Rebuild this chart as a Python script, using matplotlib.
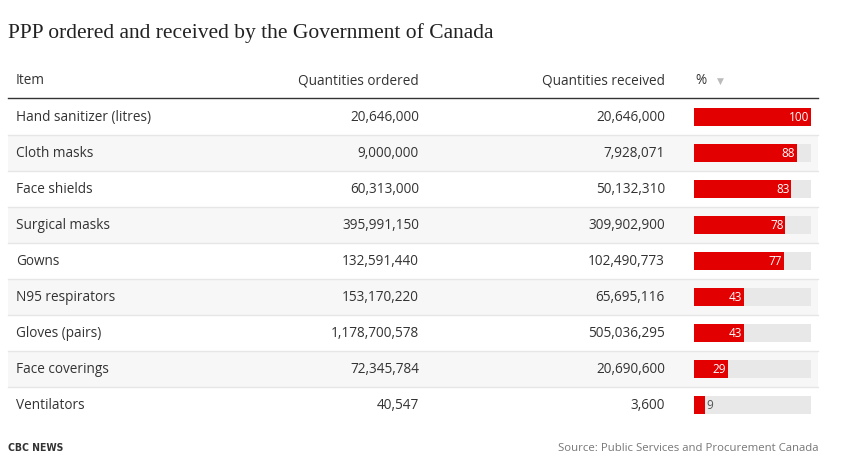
import matplotlib.pyplot as plt
from matplotlib.patches import Rectangle

# table data
items = ["Hand sanitizer (litres)", "Cloth masks", "Face shields", "Surgical masks",
         "Gowns", "N95 respirators", "Gloves (pairs)", "Face coverings", "Ventilators"]
ordered = [20646000, 9000000, 60313000, 395991150, 132591440,
           153170220, 1178700578, 72345784, 40547]
received = [20646000, 7928071, 50132310, 309902900, 102490773,
            65695116, 505036295, 20690600, 3600]
pct = [100, 88, 83, 78, 77, 43, 43, 29, 9]

W, H = 859, 461
body = ["Open Sans", "DejaVu Sans"]
txt = "#333333"

fig = plt.figure(figsize=(W / 100, H / 100), dpi=100)
ax = fig.add_axes([0, 0, 1, 1])
ax.set_xlim(0, W)
ax.set_ylim(H, 0)
ax.axis("off")

ax.text(8, 33, "PPP ordered and received by the Government of Canada",
        fontsize=15.5, family=["Liberation Serif", "DejaVu Serif"], color="#222222", va="center")

# header
hy = 81
ax.text(16, hy, "Item", fontsize=9.8, family=body, color=txt, va="center")
ax.text(419, hy, "Quantities ordered", fontsize=9.8, family=body, color=txt, va="center", ha="right")
ax.text(665, hy, "Quantities received", fontsize=9.8, family=body, color=txt, va="center", ha="right")
ax.text(695, hy, "%", fontsize=9.8, family=body, color=txt, va="center")
ax.text(717, hy, "▼", fontsize=6.5, family=["DejaVu Sans"], color="#bbbbbb", va="center")
ax.plot([8, 818], [98.5, 98.5], color="#333333", lw=1)

top = 99
rh = 36
for i, name in enumerate(items):
    y0 = top + i * rh
    if i % 2 == 1:
        ax.add_patch(Rectangle((8, y0), 810, rh, color="#f7f7f7", lw=0, zorder=0))
    if i < len(items) - 1:
        ax.plot([8, 818], [y0 + rh, y0 + rh], color="#e6e6e6", lw=1, zorder=1)
    yc = y0 + rh / 2
    ax.text(16, yc, name, fontsize=9.8, family=body, color=txt, va="center")
    ax.text(419, yc, f"{ordered[i]:,}", fontsize=9.8, family=body, color=txt, va="center", ha="right")
    ax.text(665, yc, f"{received[i]:,}", fontsize=9.8, family=body, color=txt, va="center", ha="right")

# bar column
bx = fig.add_axes([694 / W, 1 - (top + rh * len(items)) / H, 117 / W, rh * len(items) / H])
bx.set_xlim(0, 100)
bx.set_ylim(len(items) - 0.5, -0.5)
bx.axis("off")
bx.patch.set_alpha(0)
rows = list(range(len(items)))
bx.barh(rows, [100] * len(items), height=0.5, color="#e8e8e8", lw=0)
bx.barh(rows, pct, height=0.5, color="#e30000", lw=0)
for i, p in enumerate(pct):
    if p >= 20:
        bx.text(p - 1.5, i, str(p), fontsize=8.5, family=body, color="white",
                va="center", ha="right")
    else:
        bx.text(p + 1.5, i, str(p), fontsize=8.5, family=body, color="#555555",
                va="center", ha="left")

ax.text(8, 448, "CBC NEWS", fontsize=7.5, family=["DejaVu Sans"], fontstretch="condensed",
        fontweight="bold", color="#333333", va="center")
ax.text(818, 448, "Source: Public Services and Procurement Canada", fontsize=8.2,
        family=body, color="#777777", va="center", ha="right")

fig.savefig("out.png", dpi=100)
